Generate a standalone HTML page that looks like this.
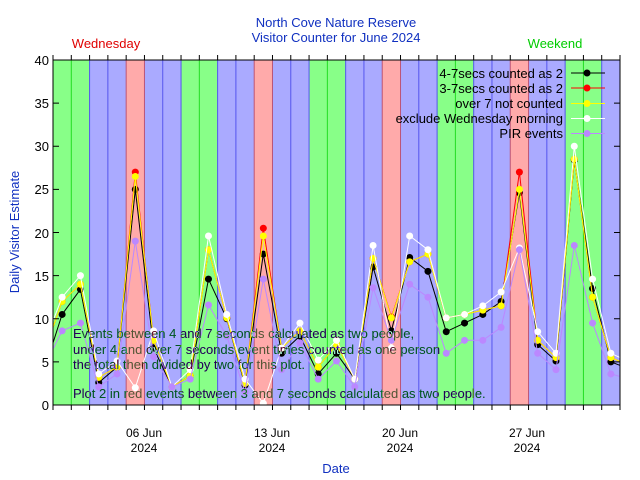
<!DOCTYPE html>
<html><head><meta charset="utf-8"><style>
html,body{margin:0;padding:0;background:#fff;}
svg{display:block;font-family:"Liberation Sans",sans-serif;}
</style></head><body>
<svg id="s" width="640" height="480" xmlns="http://www.w3.org/2000/svg">
<defs><clipPath id="c"><rect x="53" y="60" width="567" height="345"/></clipPath></defs>
<g id="bands"></g>
<g id="lines" clip-path="url(#c)"></g>
<g id="ticks" stroke="#000" stroke-width="1"></g>
<rect x="53" y="60" width="567" height="345" fill="none" stroke="#000" stroke-width="1"/>
<g font-size="13" fill="#000" text-anchor="end">
<text x="49" y="410">0</text><text x="49" y="367">5</text><text x="49" y="324">10</text>
<text x="49" y="281">15</text><text x="49" y="238">20</text><text x="49" y="194">25</text>
<text x="49" y="151">30</text><text x="49" y="108">35</text><text x="49" y="65">40</text>
</g>
<g font-size="12" fill="#000" text-anchor="middle">
<text x="144" y="437">06 Jun</text><text x="144" y="452">2024</text>
<text x="272" y="437">13 Jun</text><text x="272" y="452">2024</text>
<text x="400" y="437">20 Jun</text><text x="400" y="452">2024</text>
<text x="527" y="437">27 Jun</text><text x="527" y="452">2024</text>
</g>
<g font-size="13" fill="#1030c0" text-anchor="middle">
<text x="336" y="27">North Cove Nature Reserve</text>
<text x="336" y="42">Visitor Counter for June 2024</text>
<text x="336" y="473">Date</text>
<text transform="translate(19,232) rotate(-90)">Daily Visitor Estimate</text>
</g>
<text x="106" y="48" font-size="13" fill="#e00000" text-anchor="middle">Wednesday</text>
<text x="555" y="48" font-size="13" fill="#00cc00" text-anchor="middle">Weekend</text>
<g font-size="13" fill="#aaffe0" style="mix-blend-mode:difference">
<text x="73" y="338">Events between 4 and 7 seconds calculated as two people,</text>
<text x="73" y="354">under 4 and over 7 seconds event times counted as one person</text>
<text x="73" y="369">the total then divided by two for this plot.</text>
<text x="73" y="398">Plot 2 in red events between 3 and 7 seconds calculated as two people.</text>
</g>
<g font-size="13" fill="#000" text-anchor="end">
<text x="563" y="78">4-7secs counted as 2</text>
<text x="563" y="93">3-7secs counted as 2</text>
<text x="563" y="108">over 7 not counted</text>
<text x="563" y="123">exclude Wednesday morning</text>
<text x="563" y="138">PIR events</text>
</g>
<g id="leg"></g>
</svg>
<script>
var NS="http://www.w3.org/2000/svg",L=53,T=60,B=405,DW=567/31;
function el(p,n,a){var e=document.createElementNS(NS,n);for(var k in a)e.setAttribute(k,a[k]);p.appendChild(e);return e;}
var bands=document.getElementById('bands');
for(var d=0;d<31;d++){var dow=(6+d)%7;var f;
 if(dow==0||dow==6){f='#88ff88';}else if(dow==3){f='#ffaaaa';}else{f='#aaaaff';}
 el(bands,'rect',{x:L+d*DW,y:T,width:DW,height:B-T,fill:f});}
for(var d=1;d<31;d++){var dow=(6+d)%7,pd=(5+d)%7;var s=((dow==0||dow==6)&&(pd==0||pd==6))?'#22dd22':'#5555ee';
 if(dow==3||pd==3)s='#bb5577';
 el(bands,'line',{x1:L+d*DW,x2:L+d*DW,y1:T,y2:B,stroke:s,'stroke-width':1});}
var tk=document.getElementById('ticks');
for(var d=0;d<=31;d++){var x=L+d*DW;el(tk,'line',{x1:x,x2:x,y1:B,y2:B+5});el(tk,'line',{x1:x,x2:x,y1:T,y2:T-5});}
for(var v=0;v<=40;v+=5){var y=B-v*8.625;el(tk,'line',{x1:L,x2:L+6,y1:y,y2:y});el(tk,'line',{x1:614,x2:620,y1:y,y2:y});}
var blk=[3.9,10.5,13.4,2.6,4.4,25,6.6,2.1,3.4,14.6,10,2.3,17.5,6,8,3.6,6,3,16,8.6,17.1,15.5,8.5,9.5,10.5,12,24.6,7,5.1,28.4,13.5,5,4.2];
var red=[6,12,14,3.2,4.4,27,7.5,2.1,3.4,18,10.1,2.5,20.5,6.6,8.6,4.4,7,3,17,10.2,16.6,17.5,10.1,10.5,11,11.5,27,7.5,5.5,28.5,12.5,5.5,4.6];
var yel=[6,12,14,3.2,4.4,26.5,7.5,2.1,3.4,18,10.1,2.5,19.6,6.6,8.6,4.4,7,3,17,10.1,16.6,17.5,10.1,10.5,11,11.5,25,7.5,5.5,28.5,12.5,5.5,4.6];
var wht=[7,12.5,15,3.6,5.1,2,8.6,2.1,4.1,19.6,10.5,3,0.2,6.6,9.5,5.2,7.5,3,18.5,6.6,19.6,18,10.1,10.5,11.5,13.1,18.2,8.5,6,30,14.6,6,5];
var pir=[4.4,8.6,9.5,2.1,3.6,19,5.6,2.1,3,11.6,8,1.5,14.6,4.1,7.2,3,5.1,2.1,13.6,7.5,14,12.5,6,7.5,7.5,9,18,6,4.1,18.5,9.5,3.6,3];
var g=document.getElementById('lines');
function ser(data,col){var pts=data.map(function(v,i){return (L+(i-0.5)*DW).toFixed(1)+','+(B-v*8.625).toFixed(1);});
 el(g,'polyline',{points:pts.join(' '),fill:'none',stroke:col,'stroke-width':1});
 data.forEach(function(v,i){el(g,'circle',{cx:L+(i-0.5)*DW,cy:B-v*8.625,r:3.5,fill:col});});}
ser(blk,'#000000');ser(red,'#ff0000');ser(yel,'#ffff00');ser(wht,'#ffffff');ser(pir,'#bb88ff');
var lg=document.getElementById('leg');
[['#000000',73],['#ff0000',88],['#ffff00',103.5],['#ffffff',118.5],['#bb88ff',133.5]].forEach(function(a){
 el(lg,'line',{x1:571,x2:605,y1:a[1],y2:a[1],stroke:a[0],'stroke-width':1});el(lg,'circle',{cx:587,cy:a[1],r:3.5,fill:a[0]});});
</script>
</body></html>
